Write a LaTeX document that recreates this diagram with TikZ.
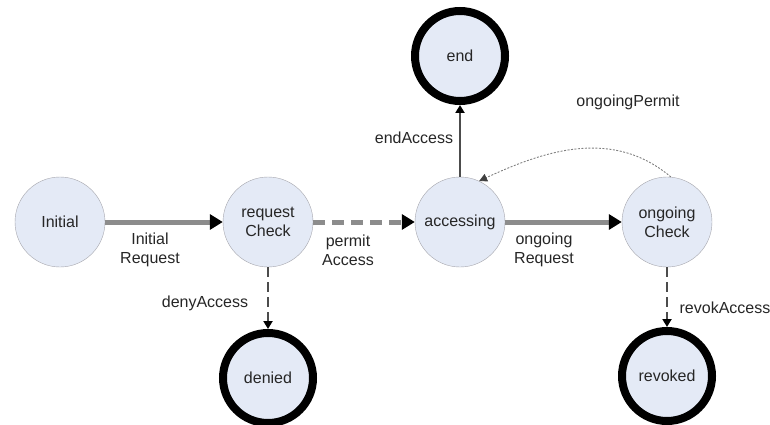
\documentclass[tikz,border=0pt]{standalone}
\usepackage{fontspec}
\setmainfont{Liberation Sans}
\usetikzlibrary{arrows.meta}
\definecolor{statefill}{RGB}{228,234,246}
\definecolor{stateline}{RGB}{165,165,172}
\begin{document}
\begin{tikzpicture}[x=1pt,y=-1pt,
  font=\fontsize{16}{19}\selectfont, text=black!85,
  state/.style={circle, draw=stateline, fill=statefill, minimum size=90pt, inner sep=0pt, align=center},
  final/.style={state, draw=black, line width=8pt},
  lbl/.style={align=center},
  bigarrow/.style={draw=black!45, line width=5pt, -{Triangle[length=13pt,width=15pt,color=black]}},
  bigdash/.style={bigarrow, dash pattern=on 12pt off 7pt},
  thinarrow/.style={draw=black!70, line width=2pt, -{Triangle[length=8pt,width=9pt,color=black]}},
  thindash/.style={thinarrow, dash pattern=on 10pt off 5pt},
  permitloop/.style={draw=black!50, line width=0.9pt, dash pattern=on 2pt off 1.5pt, -{Triangle[length=8pt,width=8pt,color=black!75]}}]
\useasboundingbox (0,0) rectangle (770,425);
% states
\node[state] (init) at (60,222) {Initial};
\node[state] (reqc) at (268,222) {request\\Check};
\node[state] (acc) at (460,222) {accessing};
\node[state] (ong) at (667,222) {ongoing\\Check};
\node[final] (endst) at (460,56) {end};
\node[final] (denied) at (268,378) {denied};
\node[final] (revoked) at (667,376) {revoked};
% transitions
\draw[bigarrow] (init) -- (reqc);
\draw[bigdash] (reqc) -- (acc);
\draw[bigarrow] (acc) -- (ong);
\draw[thinarrow] (acc) -- (endst);
\draw[thindash] (reqc) -- (denied);
\draw[thindash] (ong) -- (revoked);
\draw[permitloop] (ong.85) to[out=140,in=25] (acc.65);
% labels
\node[lbl] (initreq) at (150,250) {Initial\\Request};
\node[lbl] (permacc) at (348,250) {permit\\Access};
\node[lbl] (ongreq) at (544,250) {ongoing\\Request};
\node (endacc) at (414,138) {endAccess};
\node (ongperm) at (628,102) {ongoingPermit};
\node (denyacc) at (205,303) {denyAccess};
\node (revacc) at (725,308) {revokAccess};
\end{tikzpicture}
\end{document}
